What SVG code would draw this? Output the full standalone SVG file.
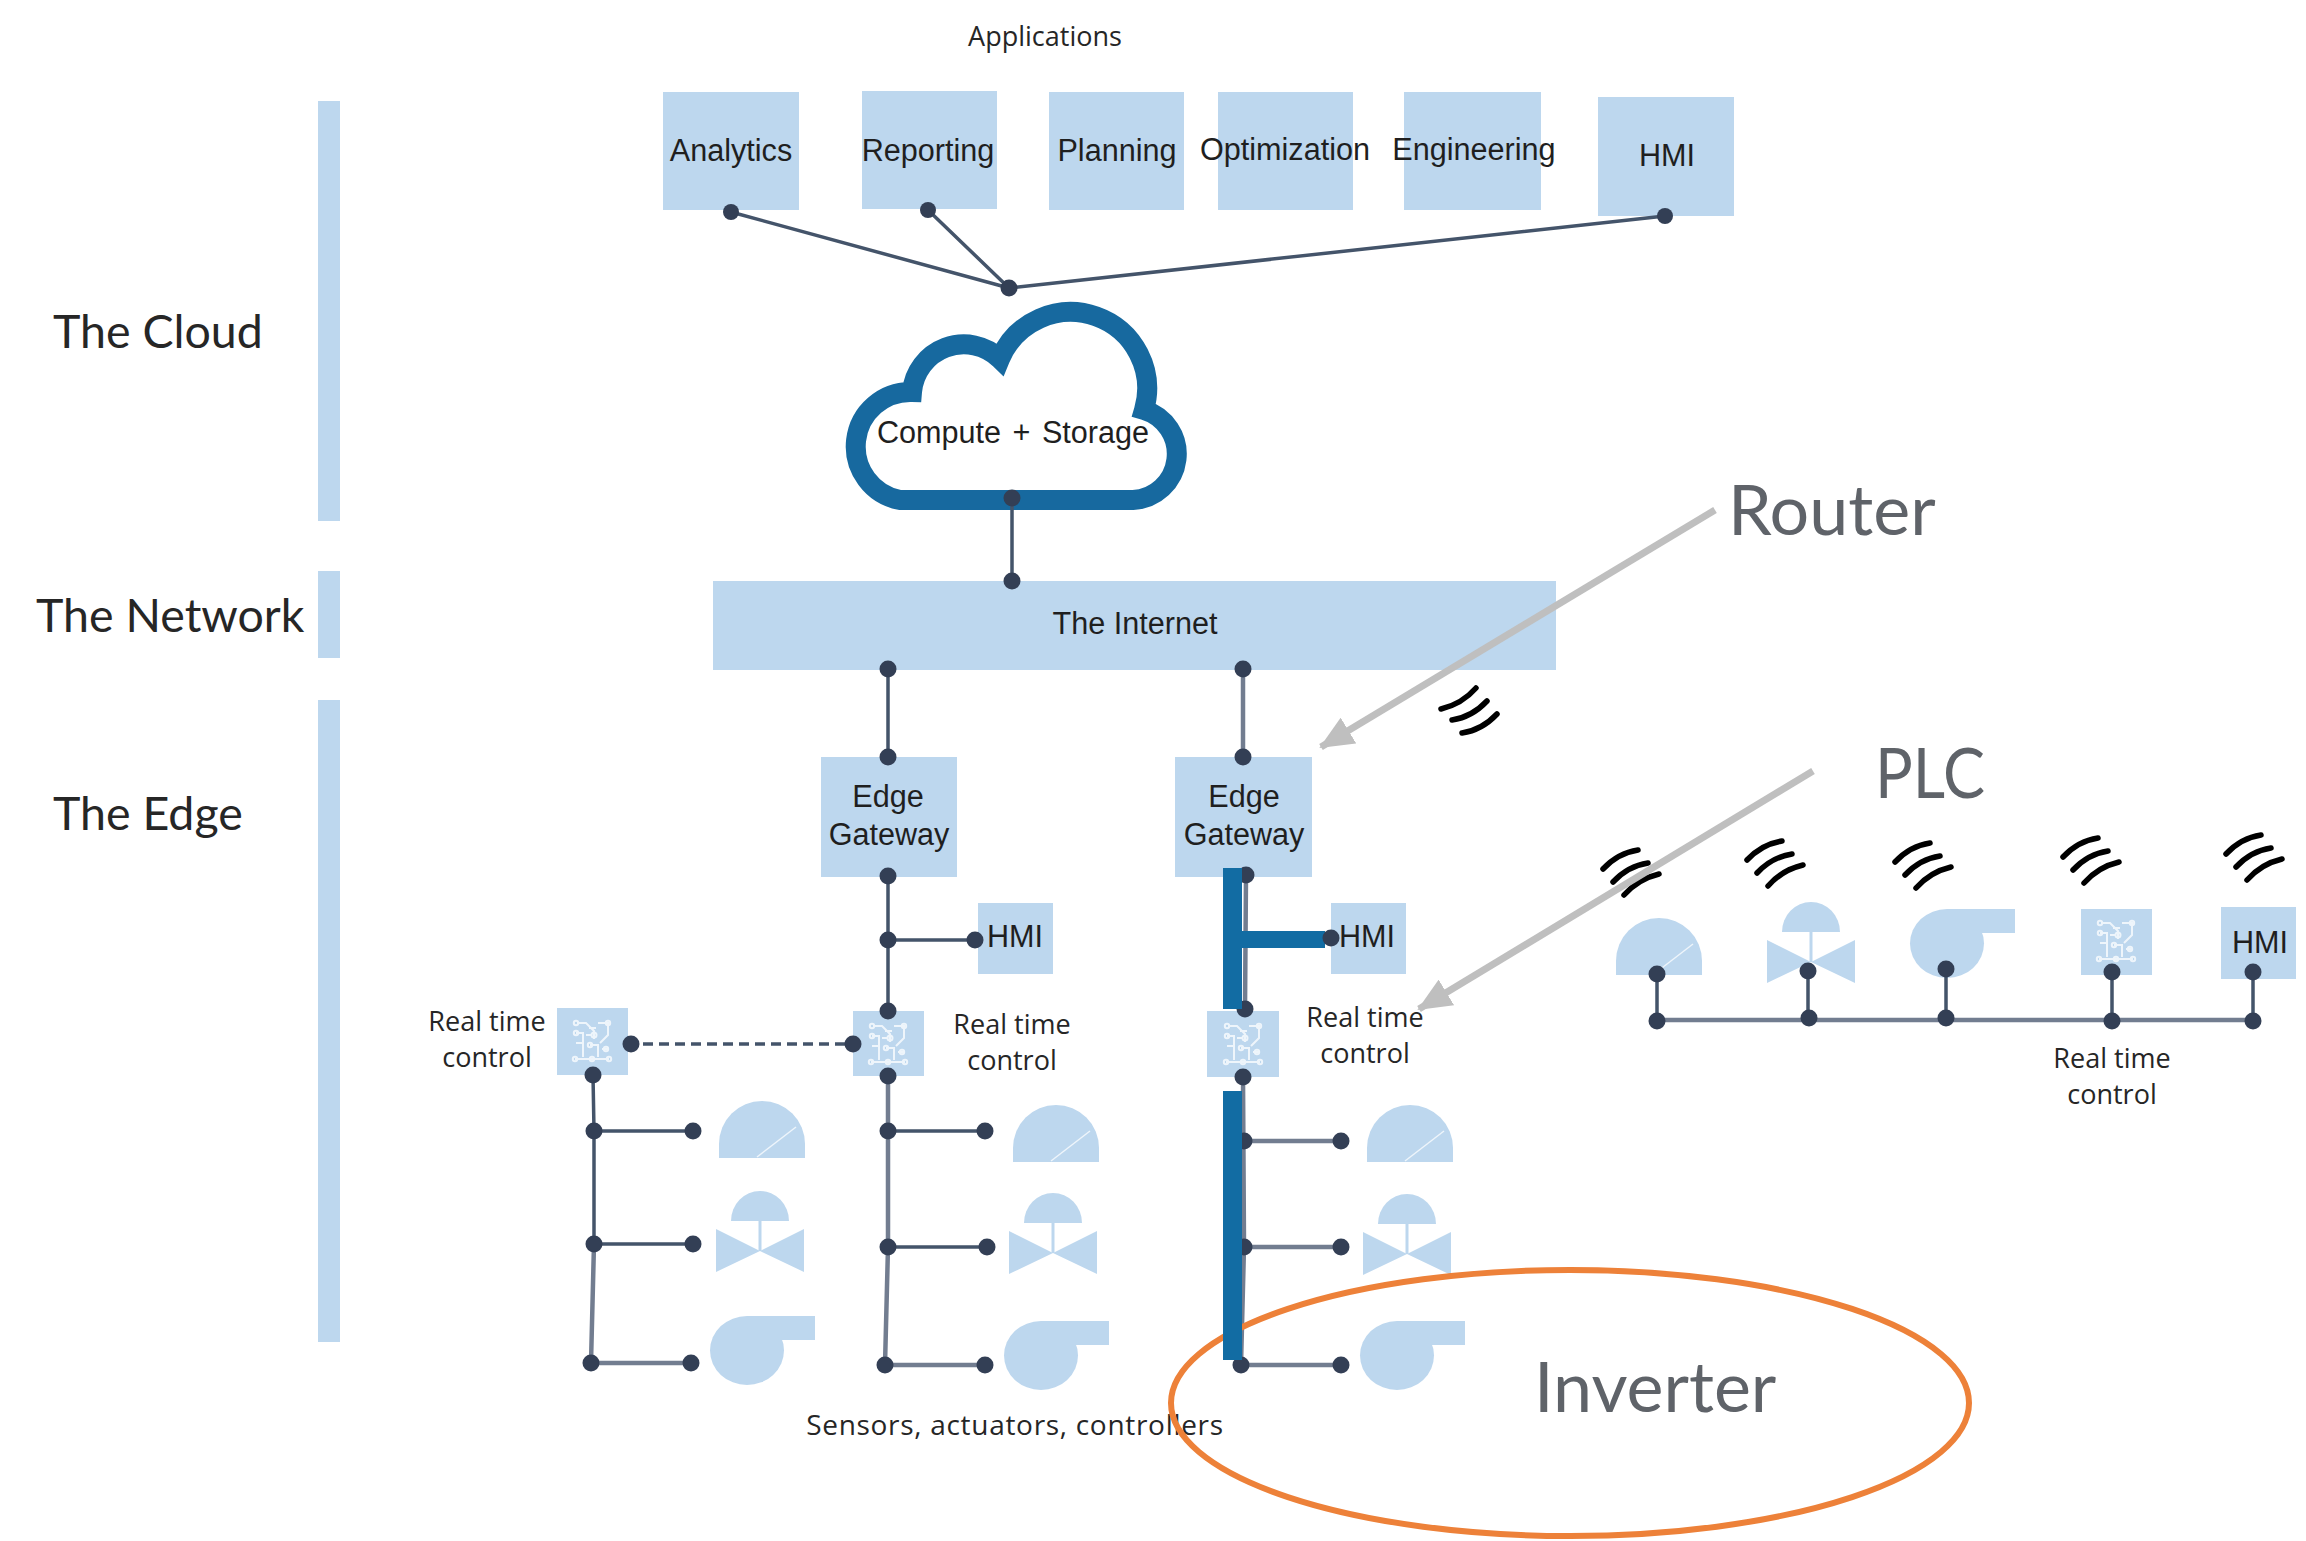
<svg xmlns="http://www.w3.org/2000/svg" width="2306" height="1541" viewBox="0 0 2306 1541">
<style>
.box{fill:#bdd7ee}
.t{font-family:"Liberation Sans",Arial,sans-serif;font-size:30.6px;fill:#1f1f1f;text-anchor:middle}
.s{font-family:"Open Sans","Liberation Sans",sans-serif;font-size:27px;fill:#262626;text-anchor:middle}
.lbl{font-family:"Lato","Open Sans",sans-serif;font-size:46.5px;fill:#262626}
.ann{font-family:"Lato","Open Sans",sans-serif;font-size:70px;fill:#5f6369}
.ln{stroke:#44546a;stroke-width:3.5;fill:none}
.lg{stroke:#727d90;stroke-width:4.5;fill:none}
.dot{fill:#333f55}
.thick{fill:#126ca3}
.call{stroke:#bfbfbf;stroke-width:7;fill:none}
.head{fill:#bfbfbf}
.wf{stroke:#000;stroke-width:5.5;fill:none;stroke-linecap:round}
.ic{stroke:#eef5fb;stroke-width:2;fill:none}
</style>
<defs>
<g id="gauge"><path class="box" d="M-43 0V-14A43 43 0 0 1 43 -14V0Z"/><path d="M-5 -1L34 -31" stroke="#eef5fb" stroke-width="1.5"/></g>
<g id="valve"><path class="box" d="M-29 -30A29 30 0 0 1 29 -30Z"/><path d="M0 -30V0" stroke="#bdd7ee" stroke-width="3"/><path class="box" d="M-44 -22L0 0L-44 21ZM44 -22L0 0L44 21Z"/></g>
<g id="pump"><ellipse class="box" cx="37" cy="34.5" rx="37" ry="34.5"/><rect class="box" x="37" y="0" width="68" height="24"/></g>
<g id="icon"><path class="ic" d="M-15 -18H-6L2 -10V-2M6 -18H16V-6L8 2M-16 -8H-9V16M-2 4H6V16M-17 18H17M-6 -6H-1M10 8H16M-16 2H-9M-3 -13H4"/><circle class="ic" cx="-16" cy="-18" r="2.2"/><circle class="ic" cx="16" cy="-18" r="2.2"/><circle class="ic" cx="-16" cy="-8" r="2.2"/><circle class="ic" cx="2" cy="-6" r="2.5"/><circle class="ic" cx="-17" cy="18" r="2.2"/><circle class="ic" cx="17" cy="18" r="2.2"/><circle class="ic" cx="-2" cy="4" r="2.2"/><circle class="ic" cx="14" cy="8" r="2.2"/><circle class="ic" cx="0" cy="18" r="2.2"/></g>
<g id="wifi"><path class="wf" d="M-27 -3Q-12 -19 8 -22"/><path class="wf" d="M-17 10Q-2 -6 18 -9"/><path class="wf" d="M-6 23Q8 7 29 2"/></g>
<marker id="ah" markerUnits="userSpaceOnUse" markerWidth="36" markerHeight="30" refX="32" refY="15" orient="auto"><path class="head" d="M0 0L34 15L0 30Z"/></marker>
</defs>

<g id="bar-cloud"><rect class="box" x="318" y="101" width="22" height="420"/><text class="lbl" x="53" y="348">The Cloud</text></g>
<g id="bar-network"><rect class="box" x="318" y="571" width="22" height="87"/><text class="lbl" x="36" y="632">The Network</text></g>
<g id="bar-edge"><rect class="box" x="318" y="700" width="22" height="642"/><text class="lbl" x="53" y="830">The Edge</text></g>

<text class="s" x="1045" y="46">Applications</text>
<g id="app-analytics"><rect class="box" x="663" y="92" width="136" height="118"/><text class="t" x="731" y="161">Analytics</text></g>
<g id="app-reporting"><rect class="box" x="862" y="91" width="135" height="118"/><text class="t" x="928" y="161">Reporting</text></g>
<g id="app-planning"><rect class="box" x="1049" y="92" width="135" height="118"/><text class="t" x="1117" y="161">Planning</text></g>
<g id="app-optimization"><rect class="box" x="1218" y="92" width="135" height="118"/><text class="t" x="1285" y="160">Optimization</text></g>
<g id="app-engineering"><rect class="box" x="1404" y="92" width="137" height="118"/><text class="t" x="1474" y="160">Engineering</text></g>
<g id="app-hmi"><rect class="box" x="1598" y="97" width="136" height="119"/><text class="t" x="1667" y="166">HMI</text></g>

<g id="cloud"><path d="M900 500H1133A46 46 0 0 0 1144 410A76.5 76.5 0 0 0 1000 359A52 52 0 0 0 912 392A54.5 54.5 0 0 0 900 500Z" fill="#fff" stroke="#17699f" stroke-width="20" stroke-linejoin="miter"/><text class="t" x="1013" y="443" word-spacing="3">Compute + Storage</text></g>
<g id="internet"><rect class="box" x="713" y="581" width="843" height="89"/><text class="t" x="1135" y="634">The Internet</text></g>
<g id="gateway-1"><rect class="box" x="821" y="757" width="136" height="120"/><text class="t" x="888" y="807">Edge</text><text class="t" x="889" y="845">Gateway</text></g>
<g id="gateway-2"><rect class="box" x="1175" y="757" width="137" height="120"/><text class="t" x="1244" y="807">Edge</text><text class="t" x="1244" y="845">Gateway</text></g>
<g id="hmi-1"><rect class="box" x="978" y="903" width="75" height="71"/><text class="t" x="1015" y="947">HMI</text></g>
<g id="hmi-2"><rect class="box" x="1331" y="903" width="75" height="71"/><text class="t" x="1367" y="947">HMI</text></g>
<g id="hmi-3"><rect class="box" x="2221" y="907" width="75" height="72"/><text class="t" x="2260" y="953">HMI</text></g>

<g id="ctrl-1"><rect class="box" x="557" y="1008" width="71" height="67"/><use href="#icon" x="592" y="1041"/><text class="s" x="487" y="1031">Real time</text><text class="s" x="487" y="1067">control</text></g>
<g id="ctrl-2"><rect class="box" x="853" y="1011" width="71" height="65"/><use href="#icon" x="888" y="1044"/><text class="s" x="1012" y="1034">Real time</text><text class="s" x="1012" y="1070">control</text></g>
<g id="ctrl-3"><rect class="box" x="1207" y="1011" width="72" height="66"/><use href="#icon" x="1243" y="1044"/><text class="s" x="1365" y="1027">Real time</text><text class="s" x="1365" y="1063">control</text></g>
<g id="ctrl-4"><rect class="box" x="2081" y="909" width="71" height="66"/><use href="#icon" x="2116" y="941"/><text class="s" x="2112" y="1068">Real time</text><text class="s" x="2112" y="1104">control</text></g>

<g id="devices-1"><use href="#gauge" x="762" y="1158"/><use href="#valve" x="760" y="1251"/><use href="#pump" x="710" y="1316"/></g>
<g id="devices-2"><use href="#gauge" x="1056" y="1162"/><use href="#valve" x="1053" y="1253"/><use href="#pump" x="1004" y="1321"/></g>
<g id="devices-3"><use href="#gauge" x="1410" y="1162"/><use href="#valve" x="1407" y="1254"/><use href="#pump" x="1360" y="1321"/></g>
<g id="devices-4"><use href="#gauge" x="1659" y="975"/><use href="#valve" x="1811" y="962"/><use href="#pump" x="1910" y="909"/></g>

<g id="wireless"><use href="#wifi" transform="translate(1470 711) rotate(180)"/><use href="#wifi" x="1630" y="872"/><use href="#wifi" x="1774" y="863"/><use href="#wifi" x="1922" y="865"/><use href="#wifi" x="2090" y="860"/><use href="#wifi" x="2253" y="857"/></g>

<g id="connectors">
<path class="ln" d="M731 212L1009 288L928 210M1009 288L1665 216M1012 498V581M888 669V757"/>
<path class="lg" d="M1243 669V757"/>
<path class="ln" d="M888 876V1011M888 940H975"/>
<path class="ln" d="M643 1044H845" stroke-dasharray="10 6"/>
<path class="ln" d="M593 1075L594 1131V1244M594 1131H693M594 1244H693"/>
<path class="lg" d="M594 1244L591 1363H691"/>
<path class="ln" d="M888 1131H985M888 1247H987"/>
<path class="lg" d="M888 1076V1247L885 1365H985"/>
<path class="lg" d="M1246 875L1245 1009M1243 1077L1244 1247L1241 1365H1341M1244 1141H1341M1244 1247H1341"/>
<path class="ln" d="M1657 974V1021M1808 971V1018M1946 969V1018M2112 972V1021M2253 972V1021"/>
<path class="lg" d="M1657 1020H2253"/>
<g class="dot">
<circle cx="731" cy="212" r="8"/><circle cx="928" cy="210" r="8"/><circle cx="1009" cy="288" r="8.5"/><circle cx="1665" cy="216" r="8"/>
<circle cx="1012" cy="498" r="8.5"/><circle cx="1012" cy="581" r="8.5"/><circle cx="888" cy="669" r="8.5"/><circle cx="888" cy="757" r="8.5"/><circle cx="1243" cy="669" r="8.5"/><circle cx="1243" cy="757" r="8.5"/>
<circle cx="888" cy="876" r="8.5"/><circle cx="888" cy="940" r="8.5"/><circle cx="975" cy="940" r="8.5"/><circle cx="888" cy="1011" r="8.5"/>
<circle cx="631" cy="1044" r="8.5"/><circle cx="853" cy="1044" r="8.5"/>
<circle cx="593" cy="1075" r="8.5"/><circle cx="594" cy="1131" r="8.5"/><circle cx="693" cy="1131" r="8.5"/><circle cx="594" cy="1244" r="8.5"/><circle cx="693" cy="1244" r="8.5"/><circle cx="591" cy="1363" r="8.5"/><circle cx="691" cy="1363" r="8.5"/>
<circle cx="888" cy="1076" r="8.5"/><circle cx="888" cy="1131" r="8.5"/><circle cx="985" cy="1131" r="8.5"/><circle cx="888" cy="1247" r="8.5"/><circle cx="987" cy="1247" r="8.5"/><circle cx="885" cy="1365" r="8.5"/><circle cx="985" cy="1365" r="8.5"/>
<circle cx="1246" cy="875" r="8.5"/><circle cx="1245" cy="1009" r="8.5"/><circle cx="1243" cy="1077" r="8.5"/>
<circle cx="1244" cy="1141" r="8.5"/><circle cx="1341" cy="1141" r="8.5"/><circle cx="1244" cy="1247" r="8.5"/><circle cx="1341" cy="1247" r="8.5"/><circle cx="1241" cy="1365" r="8.5"/><circle cx="1341" cy="1365" r="8.5"/>
<circle cx="1657" cy="974" r="8.5"/><circle cx="1808" cy="971" r="8.5"/><circle cx="1946" cy="969" r="8.5"/><circle cx="2112" cy="972" r="8.5"/><circle cx="2253" cy="972" r="8.5"/>
<circle cx="1657" cy="1021" r="8.5"/><circle cx="1809" cy="1018" r="8.5"/><circle cx="1946" cy="1018" r="8.5"/><circle cx="2112" cy="1021" r="8.5"/><circle cx="2253" cy="1021" r="8.5"/>
</g>
</g>

<text class="s" x="1015" y="1435" style="font-size:28px;letter-spacing:.7px">Sensors, actuators, controllers</text>

<g id="callouts">
<path class="call" d="M1715 510L1321 747" marker-end="url(#ah)"/>
<text class="ann" x="1728" y="535">Router</text>
<path class="call" d="M1813 771L1419 1009" marker-end="url(#ah)"/>
<text class="ann" x="1875" y="798" textLength="110" lengthAdjust="spacingAndGlyphs">PLC</text>
<ellipse cx="1570" cy="1403" rx="399" ry="133" fill="none" stroke="#ed8139" stroke-width="6"/>
<text class="ann" x="1534" y="1412">Inverter</text>
</g>

<g id="highlight">
<path class="thick" d="M1223 868H1242V931H1325V948H1242V1009H1223ZM1223 1091H1242V1360H1223Z"/>
<circle class="dot" cx="1331" cy="938" r="8.5"/>
</g>
</svg>
